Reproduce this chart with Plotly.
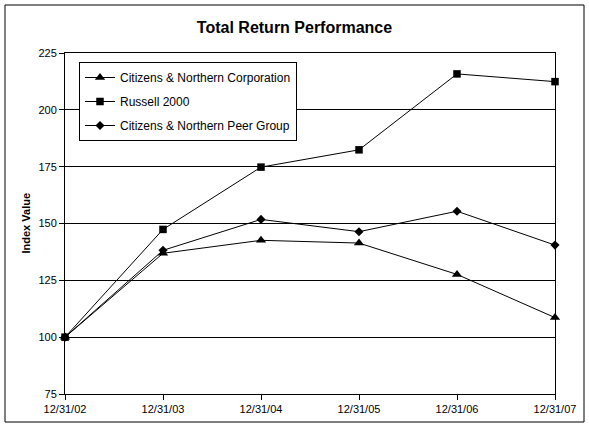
import plotly.graph_objects as go

dates = ["12/31/02", "12/31/03", "12/31/04", "12/31/05", "12/31/06", "12/31/07"]
corp = [100, 136.9, 142.6, 141.4, 127.6, 108.6]
russell = [100, 147.4, 174.8, 182.4, 215.8, 212.4]
peer = [100, 138.2, 151.8, 146.4, 155.4, 140.5]
yticks = [75, 100, 125, 150, 175, 200, 225]

series = [
    ("Citizens & Northern Corporation", corp, "triangle-up", 9),
    ("Russell 2000", russell, "square", 7.5),
    ("Citizens & Northern Peer Group", peer, "diamond", 7),
]

xs = list(range(len(dates)))
fig = go.Figure()
for i, (name, vals, sym, sz) in enumerate(series):
    fig.add_trace(go.Scatter(
        x=xs, y=vals, name=name, mode="lines+markers",
        line=dict(color="black", width=1),
        marker=dict(symbol=sym, size=sz, color="black"),
        cliponaxis=False, legendgroup=f"g{i}",
    ))

font = "Liberation Sans, Arial, sans-serif"
fig.update_layout(
    width=589, height=428,
    margin=dict(l=65, r=34, t=53, b=34),
    paper_bgcolor="white", plot_bgcolor="white",
    font=dict(family=font, size=11, color="black"),
    title=dict(text="<b>Total Return Performance</b>", x=0.5, xanchor="center",
               y=1 - 27 / 428, yanchor="middle", font=dict(size=16, family=font)),
    showlegend=True,
    legend=dict(x=(79 - 65) / 490, y=(394 - 62) / 341, xanchor="left", yanchor="top",
                bordercolor="black", borderwidth=1, bgcolor="white",
                font=dict(size=12, family=font), traceorder="grouped",
                tracegroupgap=5),
    xaxis=dict(range=[0, 5], tickvals=xs, ticktext=dates, showgrid=False,
               showline=True, linecolor="black", linewidth=1, mirror=True,
               ticks="outside", ticklen=5, tickcolor="black", zeroline=False),
    yaxis=dict(range=[75, 225], tickvals=yticks, showgrid=True, gridcolor="black",
               gridwidth=1, showline=True, linecolor="black", linewidth=1, mirror=True,
               ticks="outside", ticklen=5, tickcolor="black", zeroline=False),
    annotations=[dict(text="<b>Index Value</b>", xref="paper", yref="paper",
                      x=(17 - 65) / 490, y=0.5, textangle=-90, showarrow=False,
                      font=dict(size=11, family=font))],
    shapes=[dict(type="rect", xref="paper", yref="paper",
                 x0=(5 - 65) / 490, x1=(584 - 65) / 490,
                 y0=(394 - 422) / 341, y1=(394 - 5) / 341,
                 line=dict(color="black", width=1), layer="below")],
)

fig.write_html("out.html", config={"displayModeBar": False},
               post_script="document.body.style.margin='0px';")
